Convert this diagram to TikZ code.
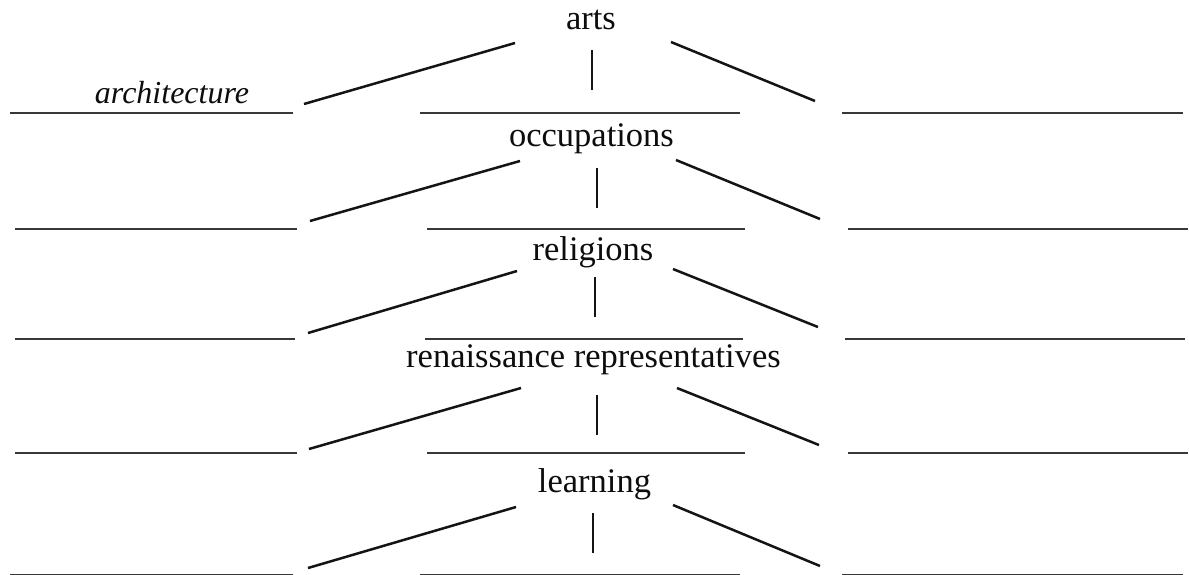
\documentclass[tikz,border=0pt]{standalone}
\usepackage{fontspec}
\setmainfont{Liberation Serif}
\begin{document}
\begin{tikzpicture}[x=1pt,y=-1pt,
  title/.style={anchor=base, inner sep=0pt, text=black!95, font=\fontsize{34.5}{40}\selectfont},
  answer/.style={anchor=base, inner sep=0pt, text=black!95, font=\fontsize{32}{38}\selectfont\itshape},
  blank/.style={line width=2.6pt, draw=black!78},
  branch/.style={line width=2.5pt, draw=black!92}]
\useasboundingbox (0,0) rectangle (1189,574);
\fill[white] (0,0) rectangle (1189,574);

% category headings
\node[title] (arts) at (591,29) {arts};
\node[title] (occ)  at (591.5,146) {occupations};
\node[title] (rel)  at (593,260) {religions};
\node[title] (ren)  at (593.5,367) {renaissance representatives};
\node[title] (lrn)  at (594.5,492) {learning};

% filled-in example answer
\node[answer] (arch) at (172,103) {architecture};

% branch end points, row by row
\coordinate (a1) at (304,104); \coordinate (a2) at (515,43);
\coordinate (a3) at (592,50);  \coordinate (a4) at (592,90);
\coordinate (a5) at (671,42);  \coordinate (a6) at (815,101);

\coordinate (b1) at (310,221); \coordinate (b2) at (520,161);
\coordinate (b3) at (597,168); \coordinate (b4) at (597,208);
\coordinate (b5) at (676,160); \coordinate (b6) at (820,219);

\coordinate (c1) at (308,333); \coordinate (c2) at (517,271);
\coordinate (c3) at (595,277); \coordinate (c4) at (595,317);
\coordinate (c5) at (673,269); \coordinate (c6) at (818,327);

\coordinate (d1) at (309,449); \coordinate (d2) at (521,388);
\coordinate (d3) at (597,395); \coordinate (d4) at (597,435);
\coordinate (d5) at (677,388); \coordinate (d6) at (819,445);

\coordinate (e1) at (308,568); \coordinate (e2) at (516,507);
\coordinate (e3) at (593,513); \coordinate (e4) at (593,553);
\coordinate (e5) at (673,505); \coordinate (e6) at (820,566);

\foreach \r in {a,b,c,d,e}{
  \draw[branch] (\r1) -- (\r2);
  \draw[branch] (\r3) -- (\r4);
  \draw[branch] (\r5) -- (\r6);
}

% answer blanks
\coordinate (la1) at (10,113);  \coordinate (la2) at (293,113);
\coordinate (ma1) at (420,113); \coordinate (ma2) at (740,113);
\coordinate (ra1) at (842,113); \coordinate (ra2) at (1183,113);

\coordinate (lb1) at (15,229);  \coordinate (lb2) at (297,229);
\coordinate (mb1) at (427,229); \coordinate (mb2) at (745,229);
\coordinate (rb1) at (848,229); \coordinate (rb2) at (1188,229);

\coordinate (lc1) at (15,339);  \coordinate (lc2) at (295,339);
\coordinate (mc1) at (425,339); \coordinate (mc2) at (743,339);
\coordinate (rc1) at (845,339); \coordinate (rc2) at (1185,339);

\coordinate (ld1) at (15,453);  \coordinate (ld2) at (297,453);
\coordinate (md1) at (427,453); \coordinate (md2) at (745,453);
\coordinate (rd1) at (848,453); \coordinate (rd2) at (1188,453);

\coordinate (le1) at (10,575);  \coordinate (le2) at (293,575);
\coordinate (me1) at (420,575); \coordinate (me2) at (740,575);
\coordinate (re1) at (842,575); \coordinate (re2) at (1183,575);

\foreach \r in {a,b,c,d,e}{
  \draw[blank] (l\r1) -- (l\r2);
  \draw[blank] (m\r1) -- (m\r2);
  \draw[blank] (r\r1) -- (r\r2);
}
\end{tikzpicture}
\end{document}
